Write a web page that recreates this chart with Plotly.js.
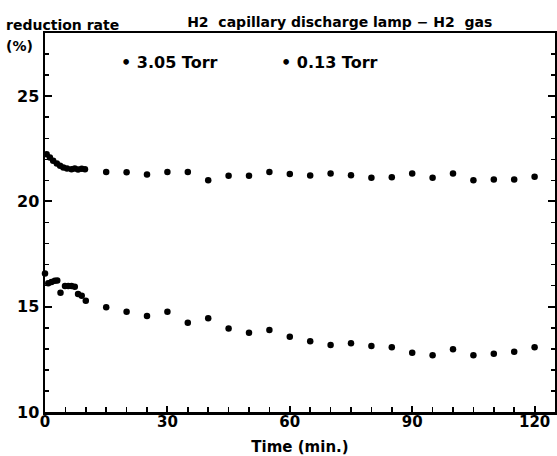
<!DOCTYPE html>
<html><head><meta charset="utf-8">
<script src="https://cdn.plot.ly/plotly-3.0.1.min.js"></script>
<style>html,body{margin:0;padding:0;background:#fff}</style>
</head><body><div id="chart" style="width:557px;height:456px"></div>
<script>
// Time (min.) and reduction rate (%)
const time305 = [0.4, 1.2, 2.0, 2.9, 3.7, 4.5, 5.4, 6.5, 7.3, 8.1, 9.0, 9.8,
  15, 20, 25, 30, 35, 40, 45, 50, 55, 60, 65, 70, 75, 80, 85, 90, 95, 100, 105, 110, 115, 120];
const rate305 = [22.24, 22.09, 21.93, 21.80, 21.69, 21.61, 21.57, 21.53, 21.57, 21.52, 21.55, 21.53,
  21.40, 21.39, 21.28, 21.40, 21.40, 21.01, 21.22, 21.22, 21.40, 21.30, 21.23, 21.33, 21.25, 21.12,
  21.15, 21.33, 21.12, 21.33, 21.01, 21.04, 21.04, 21.17];

const time013 = [0, 0.8, 1.6, 2.4, 3.0, 3.8, 4.9, 5.7, 6.5, 7.3, 8.1, 9.0, 10.0,
  15, 20, 25, 30, 35, 40, 45, 50, 55, 60, 65, 70, 75, 80, 85, 90, 95, 100, 105, 110, 115, 120];
const rate013 = [16.58, 16.11, 16.18, 16.23, 16.25, 15.66, 15.99, 15.99, 15.98, 15.95, 15.60, 15.52, 15.28,
  14.97, 14.76, 14.56, 14.76, 14.24, 14.45, 13.97, 13.76, 13.89, 13.57, 13.36, 13.18, 13.26, 13.13,
  13.08, 12.81, 12.69, 12.98, 12.69, 12.77, 12.86, 13.07];

const seriesNames = ['3.05 Torr', '0.13 Torr'];
const xTickLabels = ['0', '30', '60', '90', '120'];
const yTickLabels = ['10', '15', '20', '25'];

const FONT = 'DejaVu Sans, Verdana, sans-serif';
const mk = {color: '#000', size: 6.5, symbol: 'circle'};

const traces = [
  {x: time305, y: rate305, mode: 'markers', type: 'scatter', name: seriesNames[0], marker: mk, cliponaxis: false, showlegend: false},
  {x: time013, y: rate013, mode: 'markers', type: 'scatter', name: seriesNames[1], marker: mk, cliponaxis: false, showlegend: false}
];

const layout = {
  width: 557, height: 456,
  margin: {l: 45, r: 2, t: 33, b: 44},
  paper_bgcolor: '#fff', plot_bgcolor: '#fff',
  font: {family: FONT, color: '#000'},
  title: {
    text: 'H2  capillary discharge lamp − H2  gas',
    font: {family: FONT, size: 14, weight: 'bold', color: '#000'},
    xref: 'paper', x: 0.578, xanchor: 'center',
    yref: 'container', y: 0.952, yanchor: 'middle'
  },
  xaxis: {
    range: [0, 125],
    tickmode: 'array', tickvals: [0, 30, 60, 90, 120], ticktext: xTickLabels,
    ticks: 'inside', ticklen: 6, tickwidth: 2, tickcolor: '#000',
    minor: {dtick: 5, tick0: 0, ticks: 'inside', ticklen: 5, tickwidth: 1.5, tickcolor: '#000', showgrid: false},
    showline: true, linewidth: 2.5, linecolor: '#000', mirror: true,
    showgrid: false, zeroline: false,
    ticklabelstandoff: -6,
    tickfont: {family: FONT, size: 15, weight: 'bold', color: '#000'},
    title: {text: 'Time (min.)', font: {family: FONT, size: 15, weight: 'bold', color: '#000'}, standoff: 13}
  },
  yaxis: {
    range: [10, 28],
    tickmode: 'array', tickvals: [10, 15, 20, 25], ticktext: yTickLabels,
    ticks: 'inside', ticklen: 7, tickwidth: 2, tickcolor: '#000',
    minor: {dtick: 1, tick0: 0, ticks: 'inside', ticklen: 4, tickwidth: 1.5, tickcolor: '#000', showgrid: false},
    showline: true, linewidth: 2.5, linecolor: '#000', mirror: 'ticks',
    showgrid: false, zeroline: false,
    tickfont: {family: FONT, size: 16, weight: 'bold', color: '#000'}
  },
  annotations: [
    {text: 'reduction rate', xref: 'paper', yref: 'paper', x: -0.08, y: 1.021, xanchor: 'left', yanchor: 'middle', showarrow: false,
     font: {family: FONT, size: 14, weight: 'bold', color: '#000'}},
    {text: '(%)', xref: 'paper', yref: 'paper', x: -0.08, y: 0.966, xanchor: 'left', yanchor: 'middle', showarrow: false,
     font: {family: FONT, size: 14, weight: 'bold', color: '#000'}},
    {text: '• ' + seriesNames[0], xref: 'paper', yref: 'paper', x: 0.145, y: 0.923, xanchor: 'left', yanchor: 'middle', showarrow: false,
     font: {family: FONT, size: 16, weight: 'bold', color: '#000'}},
    {text: '• ' + seriesNames[1], xref: 'paper', yref: 'paper', x: 0.459, y: 0.923, xanchor: 'left', yanchor: 'middle', showarrow: false,
     font: {family: FONT, size: 16, weight: 'bold', color: '#000'}}
  ]
};

Plotly.newPlot('chart', traces, layout, {staticPlot: true, displayModeBar: false});
</script></body></html>
